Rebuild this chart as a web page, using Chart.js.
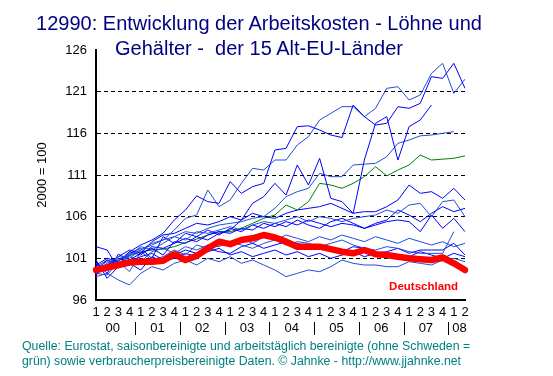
<!DOCTYPE html>
<html>
<head>
<meta charset="utf-8">
<script src="https://cdn.jsdelivr.net/npm/chart.js@4"></script>
<style>
  body { margin: 0; background: #fff; }
  .wrap { position: relative; width: 553px; height: 376px; overflow: hidden; }
  canvas { position: absolute; left: 0; top: 0; }
  .title {
    position: absolute; left: 0; top: 11px; width: 518px;
    text-align: center; white-space: pre;
    font: 20px/25px "Liberation Sans", Arial, sans-serif; color: #000080;
  }
  .source {
    position: absolute; left: 22px; top: 339px;
    font: 12.3px/15px "Liberation Sans", Arial, sans-serif; color: #008080;
    white-space: nowrap;
  }
</style>
</head>
<body>
<div class="wrap">
  <canvas id="chart" width="553" height="376"></canvas>
  <div class="title">12990: Entwicklung der Arbeitskosten - Löhne und
Gehälter -  der 15 Alt-EU-Länder</div>
  <div class="source">Quelle: Eurostat, saisonbereinigte und arbeitstäglich bereinigte (ohne Schweden =<br>grün) sowie verbraucherpreisbereinigte Daten. © Jahnke - http://www.jjahnke.net</div>
</div>
<script>
// quarters 2000 Q1 .. 2008 Q2
const quarters = ["1","2","3","4","1","2","3","4","1","2","3","4","1","2","3","4","1","2","3","4",
  "1","2","3","4","1","2","3","4","1","2","3","4","1","2"];
const years = ["00","01","02","03","04","05","06","07","08"];
const yTicks = [96, 101, 106, 111, 116, 121, 126];

// Deutschland (red)
const germany = [99.6, 99.9, 100.2, 100.5, 100.6, 100.6, 100.7, 101.5, 100.8, 101.3, 102.2, 103.0,
  102.7, 103.2, 103.4, 103.8, 103.5, 103.0, 102.4, 102.4, 102.4, 102.1, 101.8, 101.6,
  102.0, 101.5, 101.4, 101.2, 101.0, 100.9, 100.8, 101.1, 100.4, 99.6];

// Schweden (green)
const sweden = [99.8, 100.2, 100.8, 101.3, 101.8, 102.0, 102.1, 102.4, 102.9, 103.3, 103.8, 104.2,
  104.2, 104.6, 105.2, 105.8, 106.2, 107.4, 106.8, 107.8, 110.0, 109.8, 109.4, 110.0,
  110.8, 112.0, 110.9, 111.6, 112.2, 113.4, 112.8, 112.9, 113.0, 113.3];

// other countries (blue)
const country1 = [100.2, 101.0, 100.6, 101.8, 102.6, 103.2, 104.0, 105.6, 106.8, 108.5, 107.8, 107.6,
  110.2, 108.8, 109.6, 110.0, 114.0, 114.2, 116.8, 116.9, 116.4, 115.8, 115.5, 119.4,
  118.0, 117.0, 117.2, 119.2, 119.0, 119.6, 122.8, 122.6, 124.4, 121.4];
const country2 = [99.5, 100.4, 101.2, 101.0, 102.0, 102.8, 103.2, 104.4, 105.8, 106.2, 109.2, 107.2,
  108.0, 110.0, 111.8, 111.6, 112.8, 112.8, 114.6, 115.6, 117.6, 118.4, 119.2, 119.2,
  118.0, 119.0, 121.4, 121.6, 120.0, 120.6, 123.2, 124.4, 120.8, 122.5];
const country3 = [100.5, 99.2, 101.5, 100.8, 101.6, 102.2, 101.4, 103.0, 102.8, 103.6, 103.2, 104.0,
  104.4, 105.6, 107.6, 108.4, 110.0, 108.6, 112.2, 109.8, 113.0, 108.2, 107.8, 106.4,
  112.8, 117.2, 118.0, 112.8, 116.8, 117.6, 119.4, null, null, null];
const country4 = [99.8, 100.6, 100.2, 101.4, 102.0, 102.6, 103.2, 103.6, 104.2, 104.0, 104.6, 105.0,
  105.2, 105.4, 105.8, 106.0, 107.0, 108.4, 109.0, 109.4, 111.2, 110.8, 110.8, 112.2,
  112.3, 112.4, 113.2, 114.8, 115.2, 115.7, 115.8, 116.0, 116.2, null];
const country5 = [99.0, 100.2, 101.2, 102.0, 101.6, 103.0, 103.8, 104.0, 104.6, 105.2, 105.0, 105.4,
  106.0, 105.6, 106.4, 106.0, 105.8, 106.4, 106.8, 107.0, 107.2, 107.6, 107.0, 106.4,
  106.6, 106.6, 107.2, 108.0, 109.8, 108.8, 109.0, 108.2, 109.4, 108.0];
const country6 = [100.4, 99.6, 100.8, 101.4, 102.4, 102.0, 102.8, 103.6, 103.2, 104.2, 104.0, 104.4,
  104.8, 104.4, 105.0, 105.4, 105.2, 105.6, 106.0, 105.4, 106.0, 105.8, 105.4, 105.8,
  106.0, 106.2, 106.8, 106.4, 107.4, 107.6, 106.0, 107.8, 108.0, 106.0];
const country7 = [99.6, 100.8, 100.2, 101.8, 101.4, 102.4, 102.2, 102.8, 103.4, 103.0, 103.8, 104.2,
  104.0, 104.6, 104.4, 105.2, 104.8, 105.4, 105.0, 105.6, 105.2, 104.8, 105.2, 105.0,
  104.6, 105.0, 105.4, 105.6, 105.4, 104.2, 106.2, 104.6, 105.8, 104.2];
const country8 = [100.0, 100.8, 100.4, 101.2, 100.6, 101.8, 102.2, 101.6, 102.4, 102.0, 102.6, 102.4,
  103.0, 102.6, 102.2, 102.8, 103.2, 102.6, 103.0, 102.8, 102.4, 102.8, 103.2, 102.6,
  102.2, 102.0, 102.4, 102.2, 101.8, 101.6, 101.6, 101.6, 104.2, null];
const country9 = [100.2, 99.8, 101.0, 100.6, 101.2, 101.6, 100.8, 101.4, 102.0, 101.6, 102.2, 101.8,
  101.6, 102.4, 102.8, 102.2, 102.6, 103.0, 102.8, 102.4, 102.6, 102.2, 101.8, 102.4,
  102.2, 101.6, 101.8, 102.2, 101.6, 102.0, 102.0, 102.0, 102.8, 101.4];
const country10 = [98.8, 99.2, 98.4, 97.8, 99.2, 100.0, 99.6, 100.4, 100.8, 100.2, 101.0, 100.6,
  101.2, 100.4, 100.8, 100.2, 99.6, 98.8, 99.2, 99.6, 99.4, 100.0, 100.8, 100.4,
  100.2, 100.2, 100.0, 100.0, 100.6, 100.4, 100.2, 100.8, 101.0, 100.6];
const country11 = [102.4, 102.0, 99.8, 101.6, 102.2, 101.0, 103.6, 102.8, 104.0, 103.6, 104.4, 103.8,
  104.6, 104.2, 105.0, 104.6, 105.2, 104.8, 105.6, 105.0, 104.6, 105.4, 105.8, 105.2,
  104.6, 105.2, 105.6, 106.8, 106.2, 105.4, 106.4, 107.2, 106.6, 107.0];
const country12 = [99.2, 99.0, 100.6, 99.4, 101.8, 100.8, 101.2, 102.0, 101.4, 102.6, 102.2, 103.0,
  102.4, 103.4, 102.8, 103.6, 103.2, 103.8, 103.4, 103.0, 103.6, 103.2, 103.8, 103.4,
  103.0, 103.6, 103.2, 102.8, 103.4, 103.0, 102.6, 103.0, 102.4, 102.8];
const country13 = [100.8, 98.6, 100.0, 100.4, 99.6, 101.2, 100.6, 101.0, 101.6, 101.2, 101.8, 102.2,
  101.4, 101.8, 101.2, 101.6, 102.0, 101.4, 101.8, 101.2, 101.6, 101.0, 101.4, 101.8,
  101.2, 101.6, 101.0, 101.4, 101.2, 101.8, 101.4, 101.0, 101.6, 101.2];

const blueSeries = [country1, country2, country3, country4, country5, country6, country7,
  country8, country9, country10, country11, country12, country13];

const datasets = [
  {
    label: "Deutschland",
    data: germany,
    borderColor: "#ff0000",
    borderWidth: 6.5,
    borderJoinStyle: "round",
    borderCapStyle: "round",
  },
];
blueSeries.forEach((s, i) => {
  datasets.push({
    label: "Land " + (i + 1),
    data: s,
    borderColor: i % 2 ? "#1f4fd8" : "#0000ff",
    borderWidth: 1,
  });
});
datasets.push({
  label: "Schweden",
  data: sweden,
  borderColor: "#008000",
  borderWidth: 1,
});

// year row, separators and the Deutschland label
const extras = {
  id: "extras",
  afterDraw(chart) {
    const ctx = chart.ctx;
    const xs = chart.scales.x;
    const ys = chart.scales.y;
    ctx.save();
    ctx.fillStyle = "#000";
    ctx.font = '13px "Liberation Sans", Arial, sans-serif';
    ctx.textAlign = "center";
    ctx.textBaseline = "middle";
    years.forEach((yr, i) => {
      const mid = i < years.length - 1 ? i * 4 + 1.5 : i * 4 + 0.5;
      ctx.fillText(yr, xs.getPixelForValue(mid), 328);
      if (i > 0) {
        const sx = Math.round(xs.getPixelForValue(i * 4 - 0.5)) + 0.5;
        ctx.strokeStyle = "#000";
        ctx.lineWidth = 1;
        ctx.beginPath();
        ctx.moveTo(sx, 322);
        ctx.lineTo(sx, 335);
        ctx.stroke();
      }
    });
    ctx.fillStyle = "#ff0000";
    ctx.font = 'bold 11.5px "Liberation Sans", Arial, sans-serif';
    ctx.fillText("Deutschland", xs.getPixelForValue(29.3), ys.getPixelForValue(97.6));
    ctx.restore();
  },
};

new Chart(document.getElementById("chart"), {
  type: "line",
  data: { labels: quarters, datasets: datasets },
  options: {
    responsive: false,
    animation: false,
    layout: { padding: { top: 50, right: 88, bottom: 40, left: 0 } },
    elements: { point: { radius: 0 }, line: { tension: 0 } },
    plugins: { legend: { display: false }, tooltip: { enabled: false } },
    scales: {
      x: {
        grid: { display: false, drawTicks: false },
        border: { display: true, color: "#000", width: 2 },
        ticks: {
          autoSkip: false,
          maxRotation: 0,
          padding: 5,
          color: "#000",
          font: { family: '"Liberation Sans", Arial, sans-serif', size: 13 },
        },
        afterFit: (scale) => { scale.height = 36; },
      },
      y: {
        min: 96,
        max: 126,
        afterBuildTicks: (scale) => { scale.ticks = yTicks.map((v) => ({ value: v })); },
        grid: {
          drawTicks: false,
          color: (c) => (c.tick && (c.tick.value === 96 || c.tick.value === 126) ? "rgba(0,0,0,0)" : "#000"),
          lineWidth: 1,
        },
        border: { display: true, color: "#000", width: 2, dash: [4, 3] },
        ticks: {
          padding: 9,
          color: "#000",
          font: { family: '"Liberation Sans", Arial, sans-serif', size: 13 },
        },
        title: {
          display: true,
          text: "2000 = 100",
          color: "#000",
          padding: { top: 35, bottom: 0 },
          font: { family: '"Liberation Sans", Arial, sans-serif', size: 13 },
        },
        afterFit: (scale) => { scale.width = 96; },
      },
    },
  },
  plugins: [extras],
});
</script>
</body>
</html>
